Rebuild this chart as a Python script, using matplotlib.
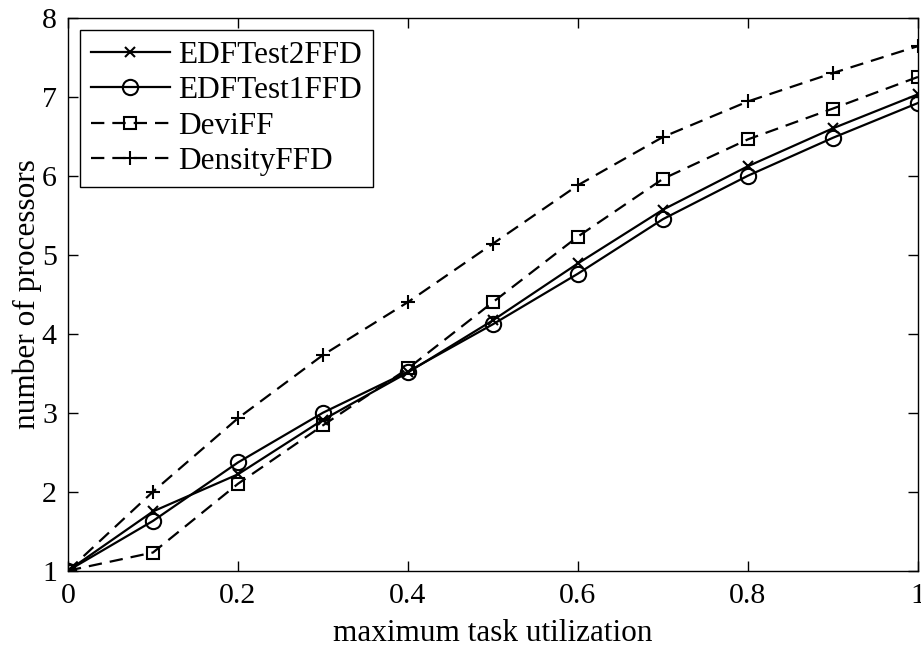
import matplotlib
matplotlib.use("Agg")
import matplotlib.pyplot as plt

x = [0, 0.1, 0.2, 0.3, 0.4, 0.5, 0.6, 0.7, 0.8, 0.9, 1.0]
edf2 = [1.0, 1.75, 2.22, 2.91, 3.51, 4.17, 4.89, 5.57, 6.12, 6.60, 7.03]
edf1 = [1.0, 1.63, 2.37, 3.00, 3.52, 4.12, 4.76, 5.45, 6.00, 6.48, 6.92]
devi = [1.0, 1.23, 2.10, 2.84, 3.56, 4.40, 5.23, 5.96, 6.46, 6.85, 7.25]
dens = [1.0, 2.00, 2.93, 3.73, 4.40, 5.14, 5.88, 6.49, 6.94, 7.30, 7.64]
xticks = [0, 0.2, 0.4, 0.6, 0.8, 1]
xticklabels = ["0", "0.2", "0.4", "0.6", "0.8", "1"]
yticks = [1, 2, 3, 4, 5, 6, 7, 8]

plt.rcParams['font.family'] = ['Liberation Serif', 'DejaVu Serif']

fig = plt.figure(figsize=(9.21, 6.48), dpi=100)
ax = fig.add_axes([0.0738, 0.1193, 0.9229, 0.8534])

lw = 1.6
dash = (0, (6, 3.6))
ax.plot(x, edf2, color='k', lw=lw, marker='x', ms=7.5, mew=1.5, label='EDFTest2FFD')
ax.plot(x, edf1, color='k', lw=lw, marker='o', ms=11, mfc='none', mew=1.5, label='EDFTest1FFD')
ax.plot(x, devi, color='k', lw=lw, ls=dash, marker='s', ms=9, mfc='none', mew=1.5, label='DeviFF')
ax.plot(x, dens, color='k', lw=lw, ls=dash, marker='+', ms=10, mew=1.5, label='DensityFFD')

ax.set_xlim(0, 1)
ax.set_ylim(1, 8)
ax.set_xticks(xticks)
ax.set_xticklabels(xticklabels)
ax.set_yticks(yticks)
ax.tick_params(direction='in', top=True, right=True, length=7, width=1, labelsize=21.5)
ax.tick_params(axis='x', pad=9)
ax.tick_params(axis='y', pad=8)
for s in ax.spines.values():
    s.set_linewidth(1)
ax.set_xlabel('maximum task utilization', fontsize=22.5, labelpad=7)
ax.set_ylabel('number of processors', fontsize=22.5, labelpad=0)

leg = ax.legend(loc='upper left', fontsize=22.5, frameon=True, fancybox=False,
                edgecolor='k', framealpha=1, handlelength=2.5, borderpad=0.35,
                labelspacing=0.2, handletextpad=0.28, borderaxespad=0.4)
leg.get_frame().set_linewidth(1)

fig.savefig('out.png', dpi=100)
